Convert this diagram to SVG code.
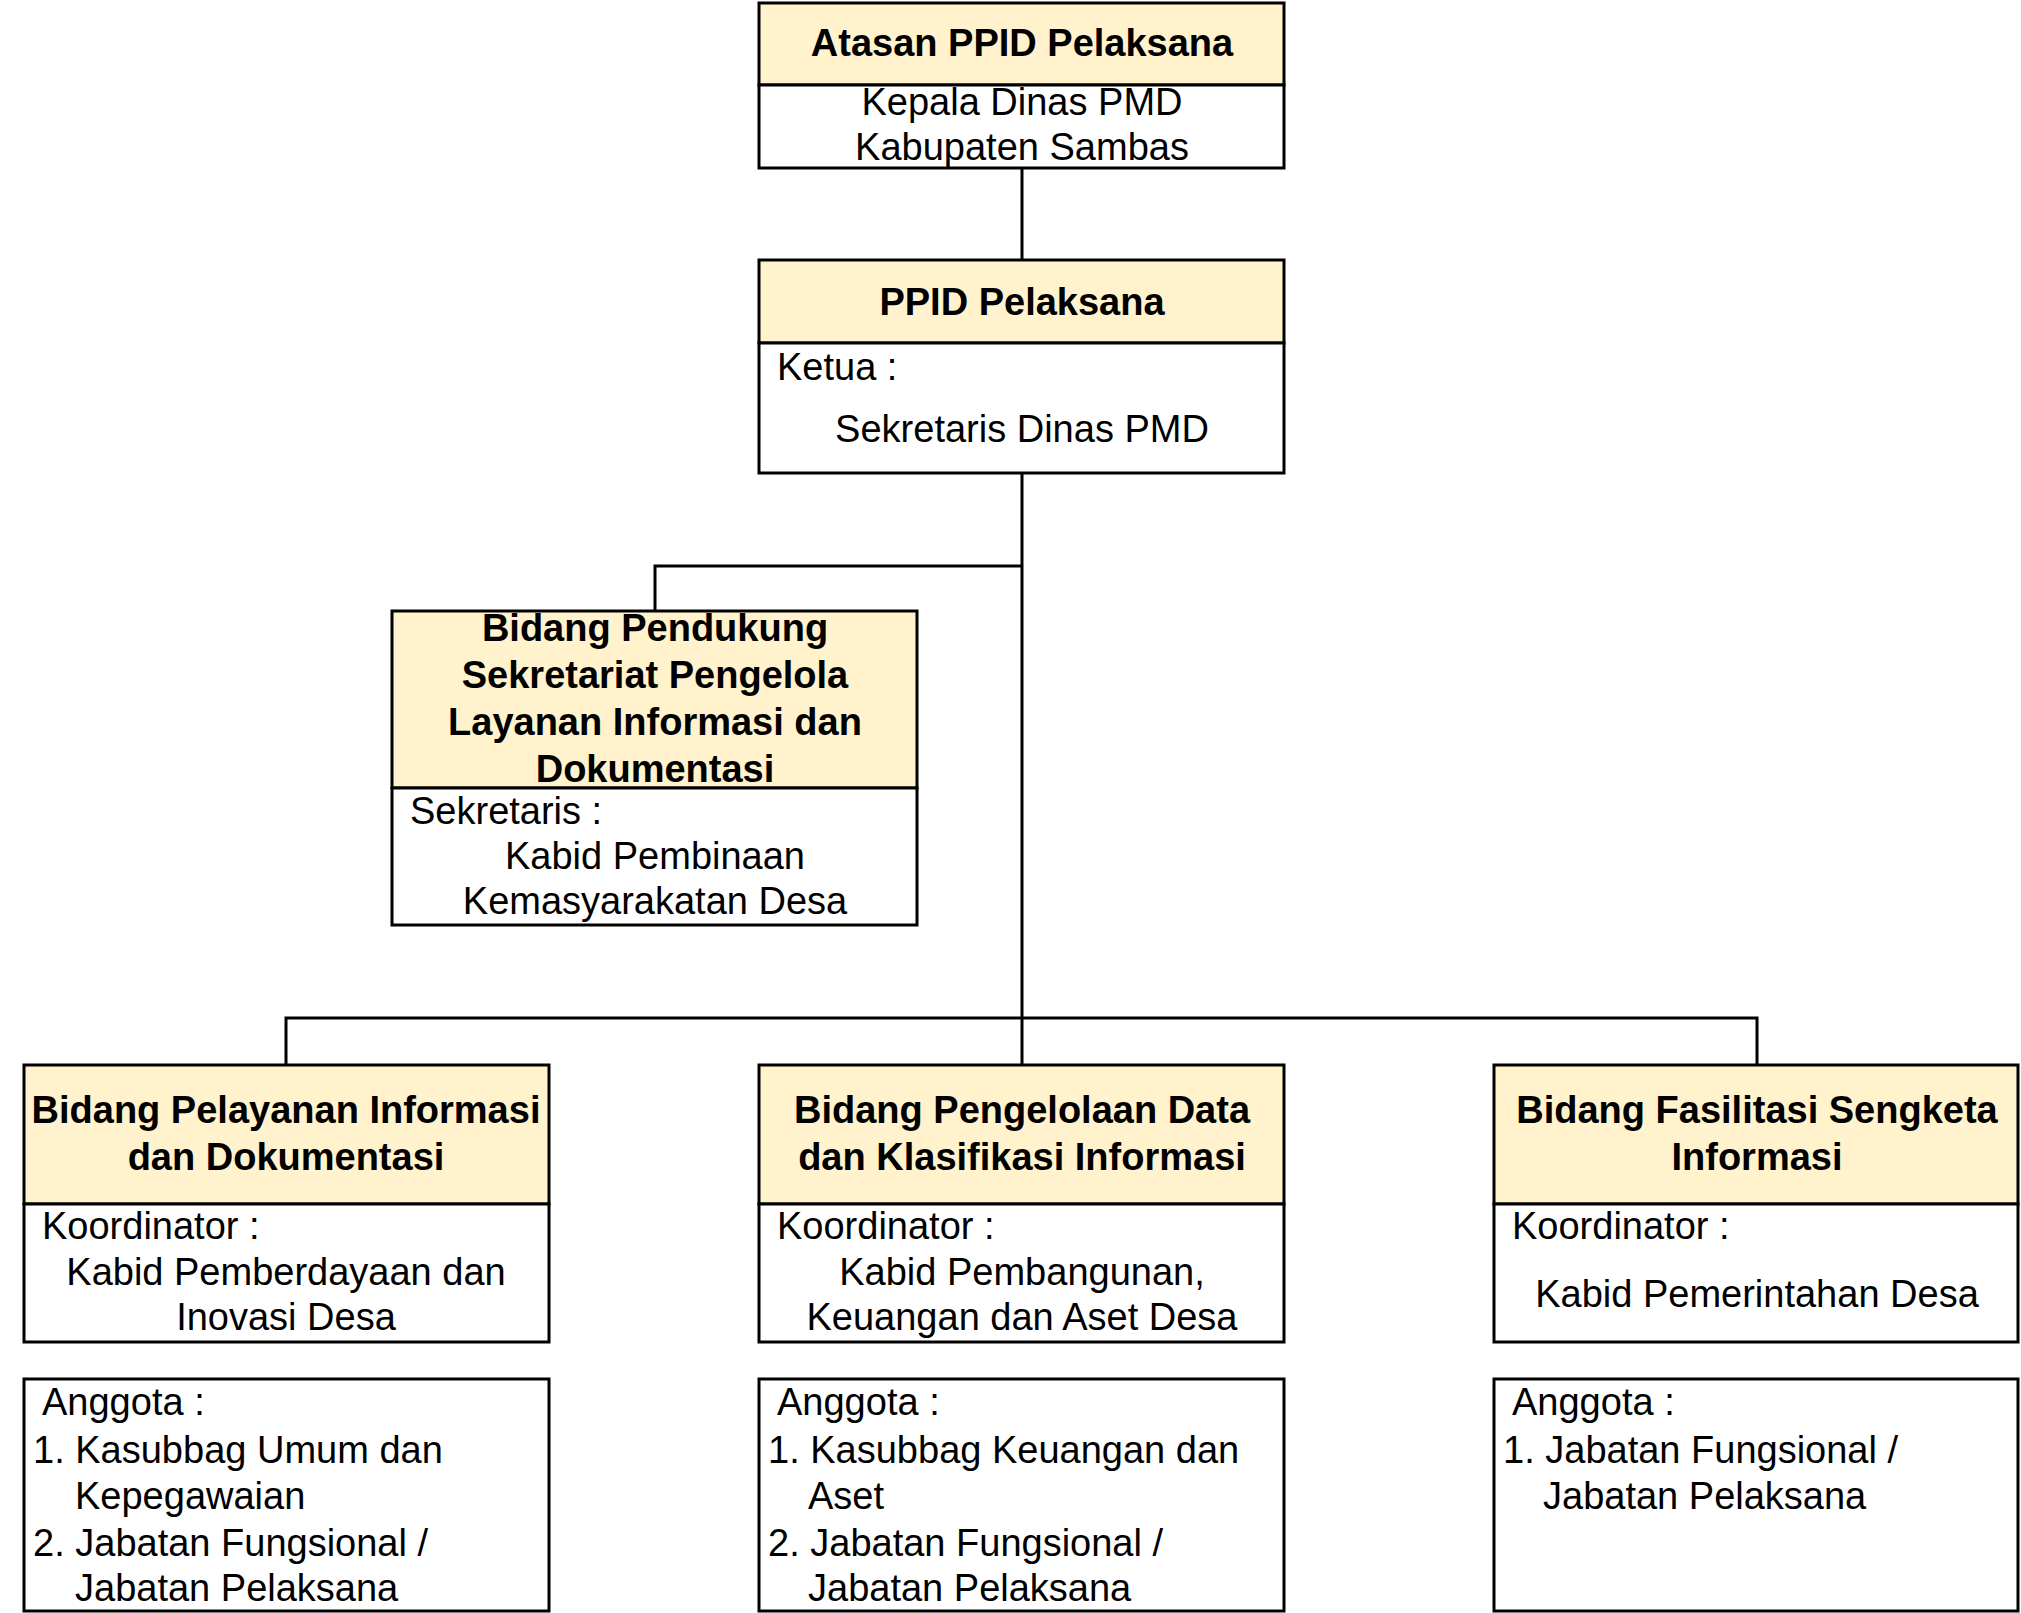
<svg xmlns="http://www.w3.org/2000/svg" width="2021" height="1613" viewBox="0 0 2021 1613">
<style>
.box{fill:#ffffff;stroke:#000;stroke-width:3}
.hdr{fill:#fff2cc;stroke:#000;stroke-width:3}
.ln{fill:none;stroke:#000;stroke-width:3}
text{font-family:"Liberation Sans",Arial,sans-serif;font-size:38px;fill:#000}
.b{font-weight:bold}
.c{text-anchor:middle}
</style>
<rect width="2021" height="1613" fill="#ffffff"/>
<g id="connectors">
<path class="ln" d="M1022 168V260"/>
<path class="ln" d="M1022 473V1065"/>
<path class="ln" d="M1022 566H655V611"/>
<path class="ln" d="M286 1065V1018H1757V1065"/>
</g>
<g id="atasan">
<rect class="hdr" x="759" y="3" width="525" height="82"/>
<rect class="box" x="759" y="85" width="525" height="83"/>
<text class="b c" x="1022" y="56">Atasan PPID Pelaksana</text>
<text class="c" x="1022" y="115">Kepala Dinas PMD</text>
<text class="c" x="1022" y="160">Kabupaten Sambas</text>
</g>
<g id="ppid">
<rect class="hdr" x="759" y="260" width="525" height="83"/>
<rect class="box" x="759" y="343" width="525" height="130"/>
<text class="b c" x="1022" y="315">PPID Pelaksana</text>
<text x="777" y="380">Ketua :</text>
<text class="c" x="1022" y="442">Sekretaris Dinas PMD</text>
</g>
<g id="pendukung">
<rect class="hdr" x="392" y="611" width="525" height="177"/>
<rect class="box" x="392" y="788" width="525" height="137"/>
<text class="b c" x="655" y="641">Bidang Pendukung</text>
<text class="b c" x="655" y="688">Sekretariat Pengelola</text>
<text class="b c" x="655" y="735">Layanan Informasi dan</text>
<text class="b c" x="655" y="782">Dokumentasi</text>
<text x="410" y="824">Sekretaris :</text>
<text class="c" x="655" y="869">Kabid Pembinaan</text>
<text class="c" x="655" y="914">Kemasyarakatan Desa</text>
</g>
<g id="pelayanan">
<rect class="hdr" x="24" y="1065" width="525" height="139"/>
<rect class="box" x="24" y="1204" width="525" height="138"/>
<text class="b c" x="286" y="1123">Bidang Pelayanan Informasi</text>
<text class="b c" x="286" y="1170">dan Dokumentasi</text>
<text x="42" y="1239">Koordinator :</text>
<text class="c" x="286" y="1285">Kabid Pemberdayaan dan</text>
<text class="c" x="286" y="1330">Inovasi Desa</text>
</g>
<g id="pelayanan-anggota">
<rect class="box" x="24" y="1379" width="525" height="232"/>
<text x="42" y="1415">Anggota :</text>
<text x="33" y="1463">1. Kasubbag Umum dan</text>
<text x="75" y="1509">Kepegawaian</text>
<text x="33" y="1556">2. Jabatan Fungsional /</text>
<text x="75" y="1601">Jabatan Pelaksana</text>
</g>
<g id="pengelolaan">
<rect class="hdr" x="759" y="1065" width="525" height="139"/>
<rect class="box" x="759" y="1204" width="525" height="138"/>
<text class="b c" x="1022" y="1123">Bidang Pengelolaan Data</text>
<text class="b c" x="1022" y="1170">dan Klasifikasi Informasi</text>
<text x="777" y="1239">Koordinator :</text>
<text class="c" x="1022" y="1285">Kabid Pembangunan,</text>
<text class="c" x="1022" y="1330">Keuangan dan Aset Desa</text>
</g>
<g id="pengelolaan-anggota">
<rect class="box" x="759" y="1379" width="525" height="232"/>
<text x="777" y="1415">Anggota :</text>
<text x="768" y="1463">1. Kasubbag Keuangan dan</text>
<text x="808" y="1509">Aset</text>
<text x="768" y="1556">2. Jabatan Fungsional /</text>
<text x="808" y="1601">Jabatan Pelaksana</text>
</g>
<g id="fasilitasi">
<rect class="hdr" x="1494" y="1065" width="524" height="139"/>
<rect class="box" x="1494" y="1204" width="524" height="138"/>
<text class="b c" x="1757" y="1123">Bidang Fasilitasi Sengketa</text>
<text class="b c" x="1757" y="1170">Informasi</text>
<text x="1512" y="1239">Koordinator :</text>
<text class="c" x="1757" y="1307">Kabid Pemerintahan Desa</text>
</g>
<g id="fasilitasi-anggota">
<rect class="box" x="1494" y="1379" width="524" height="232"/>
<text x="1512" y="1415">Anggota :</text>
<text x="1503" y="1463">1. Jabatan Fungsional /</text>
<text x="1543" y="1509">Jabatan Pelaksana</text>
</g>
</svg>
